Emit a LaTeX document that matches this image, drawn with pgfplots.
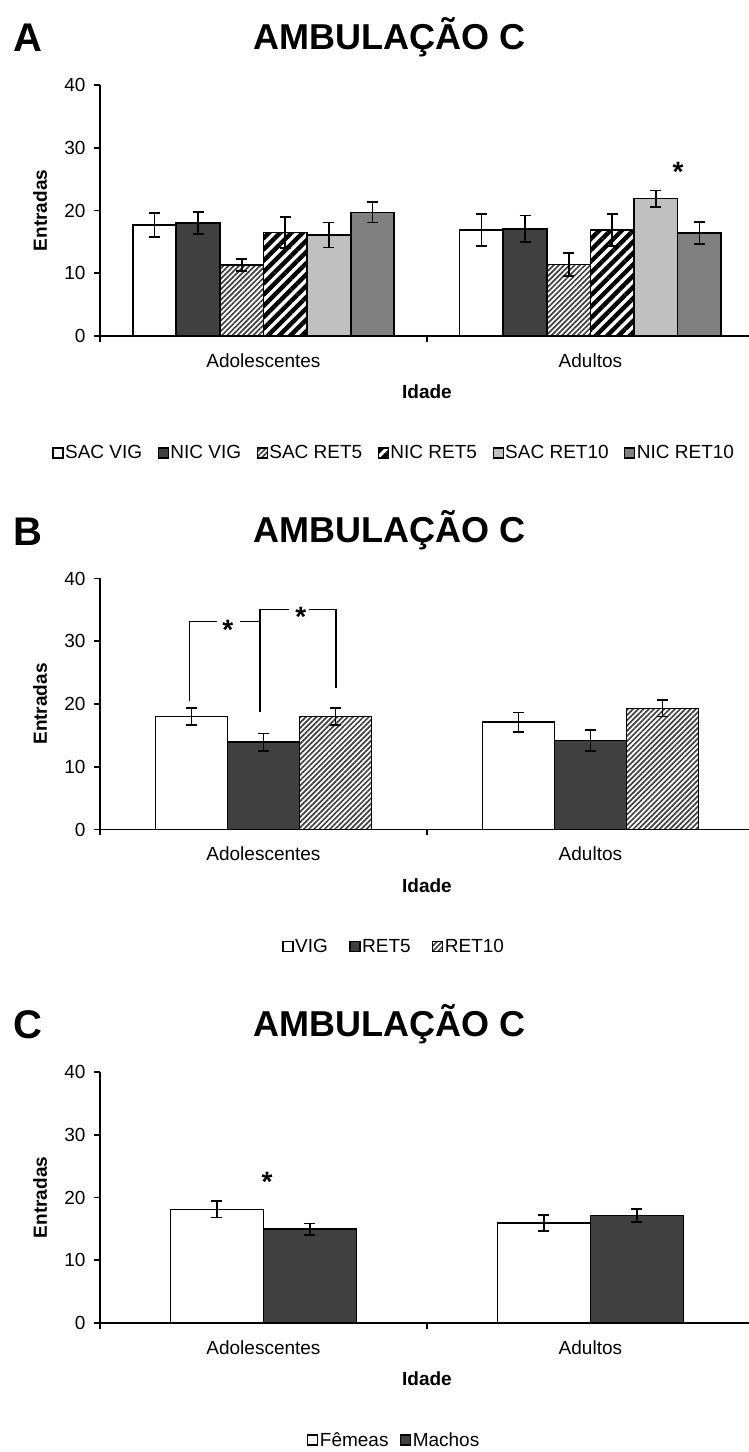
\documentclass[border=0pt]{standalone}
\usepackage{fontspec}
\setmainfont{Liberation Sans}
\usepackage{pgfplots}
\pgfplotsset{compat=1.18}
\usetikzlibrary{patterns.meta}
\definecolor{dk}{HTML}{404040}
\definecolor{lt}{HTML}{C0C0C0}
\definecolor{md}{HTML}{808080}
\newcommand{\fs}{\fontsize{19}{22}\selectfont}
\newcommand{\fb}{\fontsize{19}{22}\selectfont\bfseries}
\newcommand{\fa}{\fontsize{28}{30}\selectfont\bfseries}
\newcommand{\fl}{\fontsize{40}{42}\selectfont\bfseries}
\tikzset{
  thinhatch/.style={pattern={Lines[angle=45,distance=3.7pt,line width=1.7pt]}, pattern color=dk},
  widehatch/.style={pattern={Lines[angle=45,distance=8pt,line width=4.4pt]}, pattern color=black},
}
\pgfplotsset{
 panel/.style={
  scale only axis, width=649pt, height=251pt, anchor=south west,
  xmin=-0.5, xmax=1.485, ymin=0, ymax=40, enlargelimits=false,
  axis lines*=left, axis line style={line width=1.6pt, black},
  tick align=outside, major tick length=6pt, tick style={line width=1.6pt, black},
  ytick={0,10,20,30,40},
  yticklabel style={xshift=-5pt},
  xtick={-0.5,0.5,1.5}, xticklabels={},
  extra x ticks={0,1}, extra x tick labels={Adolescentes,Adultos},
  extra x tick style={major tick length=0pt},
  xticklabel style={yshift=-14pt},
  ticklabel style={font=\fs},
  /pgf/number format/assume math mode=true,
  xlabel={Idade}, ylabel={Entradas},
  label style={font=\fb},
  ylabel style={at={(axis description cs:-0.0924,0.5)}, anchor=center},
  xlabel style={at={(axis cs:0.5,0)}, anchor=center, yshift=-56pt},
  ybar=0pt,
  legend columns=-1,
  legend cell align=left,
  legend style={draw=none, fill=none, at={(axis description cs:0.453,-0.466)}, anchor=center, font=\fs,
    nodes={inner sep=1.5pt}},
  legend image code/.code={\draw[##1,line width=1.2pt] (0pt,-5pt) rectangle (10pt,5pt);},
  error bars/y dir=both, error bars/y explicit,
  error bars/error bar style={line width=1.8pt, black},
  error bars/error mark options={rotate=90, mark size=5.5pt, line width=1.8pt, black},
 },
 bars/.style={draw=black, line width=1.7pt},
}
\begin{document}
\begin{tikzpicture}
\path[use as bounding box] (0,0) rectangle (749pt,1452pt);

% ---------- Panel A ----------
\node[anchor=base west, inner sep=0pt, font=\fl] at (13pt,1400pt) {A};
\node[anchor=base, inner sep=0pt, font=\fontsize{36}{40}\selectfont\bfseries] at (389.5pt,1402.7pt) {AMBULAÇÃO C};
\begin{axis}[panel, at={(100pt,1116pt)}, bar width=43.6pt,
  legend style={/tikz/every even column/.append style={column sep=14pt}}]
\addplot[bars, fill=white] coordinates {(0,17.7) +- (0,1.9) (1,16.9) +- (0,2.5)};
\addplot[bars, fill=dk] coordinates {(0,18.0) +- (0,1.8) (1,17.1) +- (0,2.1)};
\addplot[bars, thinhatch] coordinates {(0,11.3) +- (0,1.0) (1,11.4) +- (0,1.8)};
\addplot[bars, widehatch] coordinates {(0,16.5) +- (0,2.5) (1,16.9) +- (0,2.5)};
\addplot[bars, fill=lt] coordinates {(0,16.1) +- (0,2.0) (1,21.9) +- (0,1.3)};
\addplot[bars, fill=md] coordinates {(0,19.7) +- (0,1.6) (1,16.4) +- (0,1.8)};
\legend{SAC VIG,NIC VIG,SAC RET5,NIC RET5,SAC RET10,NIC RET10}
\node[anchor=base, font=\fa, inner sep=0pt] at (axis cs:1.268,24.7) {*};
\end{axis}

% ---------- Panel B ----------
\node[anchor=base west, inner sep=0pt, font=\fl] at (13pt,906.5pt) {B};
\node[anchor=base, inner sep=0pt, font=\fontsize{36}{40}\selectfont\bfseries] at (389.5pt,909.2pt) {AMBULAÇÃO C};
\begin{axis}[panel, at={(100pt,622.5pt)}, bar width=72pt,
  legend style={/tikz/every even column/.append style={column sep=20pt}}]
\addplot[bars, fill=white] coordinates {(0,18.0) +- (0,1.3) (1,17.1) +- (0,1.55)};
\addplot[bars, fill=dk] coordinates {(0,13.9) +- (0,1.4) (1,14.2) +- (0,1.7)};
\addplot[bars, thinhatch] coordinates {(0,18.0) +- (0,1.3) (1,19.3) +- (0,1.3)};
\legend{VIG,RET5,RET10}
\draw[line width=1.5pt] (axis cs:-0.227,20.45) -- (axis cs:-0.227,33.15) -- (axis cs:-0.143,33.15);
\draw[line width=1.5pt] (axis cs:-0.072,33.15) -- (axis cs:-0.010,33.15);
\draw[line width=1.5pt] (axis cs:-0.010,18.65) -- (axis cs:-0.010,35.06) -- (axis cs:0.0786,35.06);
\draw[line width=1.5pt] (axis cs:0.140,35.06) -- (axis cs:0.222,35.06) -- (axis cs:0.222,22.47);
\node[anchor=base, font=\fa, inner sep=0pt] at (axis cs:-0.109,30.3) {*};
\node[anchor=base, font=\fa, inner sep=0pt] at (axis cs:0.114,32.4) {*};
\end{axis}

% ---------- Panel C ----------
\node[anchor=base west, inner sep=0pt, font=\fl] at (13pt,413pt) {C};
\node[anchor=base, inner sep=0pt, font=\fontsize{36}{40}\selectfont\bfseries] at (389.5pt,415.7pt) {AMBULAÇÃO C};
\begin{axis}[panel, at={(100pt,129pt)}, bar width=93pt,
  legend style={/tikz/every even column/.append style={column sep=10pt}}]
\addplot[bars, fill=white] coordinates {(0,18.1) +- (0,1.3) (1,15.9) +- (0,1.3)};
\addplot[bars, fill=dk] coordinates {(0,14.95) +- (0,0.9) (1,17.15) +- (0,1.05)};
\legend{Fêmeas,Machos}
\node[anchor=base, font=\fa, inner sep=0pt] at (axis cs:0.011,20.9) {*};
\end{axis}
\end{tikzpicture}
\end{document}
